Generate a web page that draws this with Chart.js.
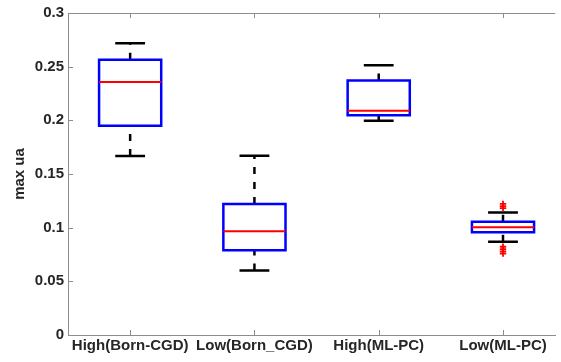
<!DOCTYPE html>
<html><head><meta charset="utf-8">
<script src="https://cdn.jsdelivr.net/npm/chart.js@4/dist/chart.umd.min.js"></script>
<style>html,body{margin:0;padding:0;background:#fff;overflow:hidden}</style>
</head><body>
<canvas id="c" width="561" height="362"></canvas>
<script>
const categories = ['High(Born-CGD)', 'Low(Born_CGD)', 'High(ML-PC)', 'Low(ML-PC)'];
const whiskerLow  = [0.1668, 0.0600, 0.1995, 0.0868];
const q1          = [0.1950, 0.0790, 0.2048, 0.0957];
const medians     = [0.2357, 0.0966, 0.2090, 0.1003];
const q3          = [0.2565, 0.1220, 0.2372, 0.1055];
const whiskerHigh = [0.2718, 0.1670, 0.2513, 0.1141];
const outliers    = [[], [], [], [0.1222, 0.1201, 0.1182, 0.0822, 0.0800, 0.0778, 0.0758]];
const yTicks      = [0, 0.05, 0.1, 0.15, 0.2, 0.25, 0.3];
const yTickLabels = ['0', '0.05', '0.1', '0.15', '0.2', '0.25', '0.3'];
const yTitle = 'max ua';

const positions = categories.map((_, i) => i + 1);
const BOX_HALF = 0.25, CAP_HALF = 0.12;
const gap = x => ({x: x, y: null});

const boxPts = [], medPts = [], whiskPts = [], capPts = [], outPts = [];
positions.forEach((c, i) => {
  boxPts.push({x: c - BOX_HALF, y: q1[i]}, {x: c + BOX_HALF, y: q1[i]}, {x: c + BOX_HALF, y: q3[i]},
              {x: c - BOX_HALF, y: q3[i]}, {x: c - BOX_HALF, y: q1[i]}, gap(c));
  medPts.push({x: c - BOX_HALF, y: medians[i]}, {x: c + BOX_HALF, y: medians[i]}, gap(c));
  whiskPts.push({x: c, y: whiskerLow[i]}, {x: c, y: q1[i]}, gap(c), {x: c, y: q3[i]}, {x: c, y: whiskerHigh[i]}, gap(c));
  capPts.push({x: c - CAP_HALF, y: whiskerLow[i]}, {x: c + CAP_HALF, y: whiskerLow[i]}, gap(c),
              {x: c - CAP_HALF, y: whiskerHigh[i]}, {x: c + CAP_HALF, y: whiskerHigh[i]}, gap(c));
  outliers[i].forEach(v => outPts.push({x: c, y: v}));
});

const AXIS = '#8c8c8c', TXT = '#262626';
const FONT = {family: 'Liberation Sans, Arial, sans-serif', size: 15, weight: 'bold'};

const axesBox = {
  id: 'axesBox',
  afterDraw(chart) {
    const {ctx, chartArea: a, scales: {x, y}} = chart;
    ctx.save();
    ctx.strokeStyle = AXIS; ctx.lineWidth = 1;
    ctx.beginPath();
    const top = Math.round(a.top) + 0.5;
    ctx.moveTo(a.left, top); ctx.lineTo(a.right, top);
    yTicks.forEach(v => { const py = Math.round(y.getPixelForValue(v)) + 0.5; ctx.moveTo(a.left, py); ctx.lineTo(a.left + 5, py); });
    positions.forEach(v => {
      const px = Math.round(x.getPixelForValue(v)) + 0.5;
      ctx.moveTo(px, a.bottom); ctx.lineTo(px, a.bottom - 5);
      ctx.moveTo(px, a.top); ctx.lineTo(px, a.top + 5);
    });
    ctx.stroke();
    ctx.restore();
  }
};

const line = (data, color, extra) => Object.assign({
  data, borderColor: color, backgroundColor: color, borderWidth: 2.5, pointRadius: 0,
  tension: 0, spanGaps: false, fill: false, borderCapStyle: 'butt', borderJoinStyle: 'miter'
}, extra);

new Chart(document.getElementById('c'), {
  type: 'line',
  data: {
    datasets: [
      line(whiskPts, '#000000', {borderDash: [7, 8], order: 5}),
      line(capPts, '#000000', {order: 4}),
      line(boxPts, '#0000ff', {borderCapStyle: 'square', order: 3}),
      line(medPts, '#ff0000', {borderWidth: 2, order: 2}),
      {data: outPts, showLine: false, pointStyle: 'cross', pointRadius: 3.2, pointBorderWidth: 1.8,
       pointBorderColor: '#ff0000', borderColor: '#ff0000', backgroundColor: '#ff0000', order: 1}
    ]
  },
  options: {
    responsive: false, animation: false, devicePixelRatio: 1,
    layout: {padding: {top: 12, right: 0, left: 0, bottom: 0}},
    plugins: {legend: {display: false}, tooltip: {enabled: false}},
    scales: {
      x: {
        type: 'linear', min: 0.5, max: 4.42,
        afterBuildTicks: s => { s.ticks = positions.map(v => ({value: v})); },
        afterFit: s => { s.height = 27; },
        grid: {display: false, drawTicks: false},
        border: {display: true, color: AXIS, width: 1},
        ticks: {color: TXT, font: FONT, padding: 2, maxRotation: 0, autoSkip: false,
                callback: v => categories[positions.indexOf(v)]}
      },
      y: {
        type: 'linear', min: 0, max: 0.3,
        afterBuildTicks: s => { s.ticks = yTicks.map(v => ({value: v})); },
        afterFit: s => { s.width = 68; },
        grid: {display: false, drawTicks: false},
        border: {display: true, color: AXIS, width: 1},
        ticks: {color: TXT, font: FONT, padding: 4,
                callback: v => yTickLabels[yTicks.indexOf(v)]},
        title: {display: true, text: yTitle, color: TXT, font: FONT, padding: {top: 10.5, bottom: 0}}
      }
    }
  },
  plugins: [axesBox]
});
</script>
</body></html>
